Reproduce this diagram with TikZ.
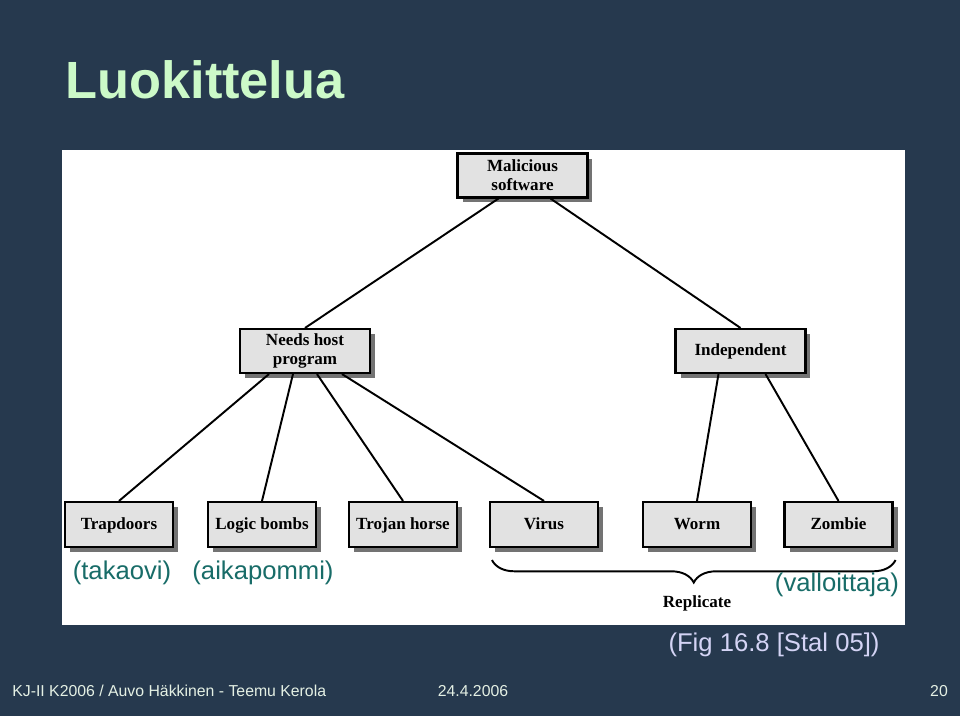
\documentclass[tikz,border=0pt]{standalone}
\usepackage{xcolor}
\usepackage{fontspec}
\setmainfont{Liberation Serif}
\newfontfamily\arialfont{Liberation Sans}
\usetikzlibrary{calc, shadows, decorations.pathreplacing}

\definecolor{slidebg}{RGB}{38,57,78}
\definecolor{titlegreen}{RGB}{204,250,200}
\definecolor{boxgray}{RGB}{226,226,226}
\definecolor{noteteal}{RGB}{24,108,104}
\definecolor{figlilac}{RGB}{212,212,245}
\definecolor{footwhite}{RGB}{228,240,228}

\begin{document}
\begin{tikzpicture}[x=0.02cm, y=-0.02cm, every node/.style={inner sep=0pt},
  box/.style={draw=black, line width=1.2pt, fill=boxgray, align=center, font=\fontsize{9.7}{10.8}\selectfont\bfseries,
    drop shadow={shadow xshift=0.1cm, shadow yshift=-0.1cm, fill=black!55, opacity=1}},
  upper/.style={box, minimum width=2.6cm, minimum height=0.88cm},
  leaf/.style={box, minimum width=2.16cm, minimum height=0.9cm, text height=1.6ex, text depth=0.45ex},
  note/.style={font=\arialfont\fontsize{14.6}{16}\selectfont, text=noteteal},
  foot/.style={font=\arialfont\fontsize{9}{10}\selectfont, text=footwhite},
  edge/.style={line width=1.1pt}]
  \useasboundingbox (0,0) rectangle (960,716);
  % slide background and white panel
  \fill[slidebg] (0,0) rectangle (960,716);
  \fill[white] (62,150) rectangle (905,625);
  \node[font=\arialfont\bfseries\fontsize{29.8}{32}\selectfont, text=titlegreen] (title) at (205,80) {Luokittelua};

  % tree
  \node[upper] (MS) at (522.5,175.5) {Malicious\\software};
  \node[upper] (NH) at (305,351) {Needs host\\program};
  \node[upper, text height=1.6ex, text depth=0.45ex] (IND) at (740.5,351) {Independent};
  \node[leaf] (TD) at (119,524.5) {Trapdoors};
  \node[leaf] (LB) at (262,524.5) {Logic bombs};
  \node[leaf] (TH) at (403,524.5) {Trojan horse};
  \node[leaf] (VI) at (544,524.5) {Virus};
  \node[leaf] (WO) at (697,524.5) {Worm};
  \node[leaf] (ZO) at (838.5,524.5) {Zombie};

  \draw[edge] ($(MS.south)+(-24,0)$) -- (NH.north);
  \draw[edge] ($(MS.south)+(28,0)$) -- (IND.north);
  \draw[edge] ($(NH.south)+(-36,0)$) -- (TD.north);
  \draw[edge] ($(NH.south)+(-12,0)$) -- (LB.north);
  \draw[edge] ($(NH.south)+(12,0)$) -- (TH.north);
  \draw[edge] ($(NH.south)+(37,0)$) -- (VI.north);
  \draw[edge] ($(IND.south)+(-22,0)$) -- (WO.north);
  \draw[edge] ($(IND.south)+(25,0)$) -- (ZO.north);

  % replicate brace
  \draw[edge, decorate, decoration={brace, mirror, amplitude=0.45cm}] ($(VI.south west)+(3,12)$) -- ($(ZO.south east)+(2,12)$);
  \node[font=\fontsize{9.7}{10.8}\selectfont\bfseries] (rep) at (697,603) {Replicate};

  % finnish notes
  \node[note] (takaovi) at (122,573) {(takaovi)};
  \node[note] (aikapommi) at (263,573) {(aikapommi)};
  \node[note] (valloittaja) at (837,585) {(valloittaja)};
  \node[font=\arialfont\fontsize{14.6}{16}\selectfont, text=figlilac] (fig) at (774,645) {(Fig 16.8 [Stal 05])};

  % footer
  \node[foot, anchor=west] (author) at (12,691) {KJ-II K2006 / Auvo Häkkinen - Teemu Kerola};
  \node[foot] (date) at (473,691) {24.4.2006};
  \node[foot] (page) at (939,691) {20};
\end{tikzpicture}
\end{document}
